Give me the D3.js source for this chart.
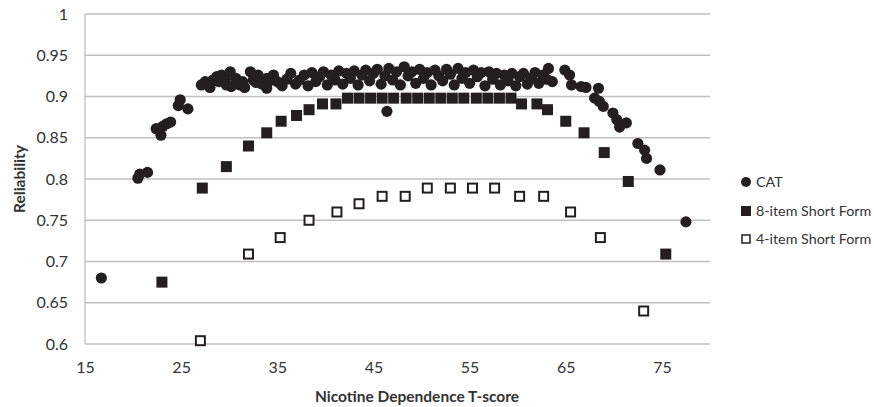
<!DOCTYPE html>
<html>
<head>
<meta charset="utf-8">
<script src="https://cdn.jsdelivr.net/npm/d3@7"></script>
<style>
  html, body { margin: 0; padding: 0; background: #fff; }
  svg { display: block; font-family: Lato, "Open Sans", sans-serif; }
</style>
</head>
<body>
<svg id="chart" width="874" height="407"></svg>
<script>
// ---------------- DATA ----------------
const xTicks = [15, 25, 35, 45, 55, 65, 75];
const yTicks = [0.6, 0.65, 0.7, 0.75, 0.8, 0.85, 0.9, 0.95, 1];
const seriesNames = ["CAT", "8-item Short Form", "4-item Short Form"];

// CAT (T-score, reliability)
const catX = [16.7, 20.5, 20.7, 21.5, 22.4, 22.9, 23.1, 23.5, 23.9, 24.7, 24.9, 25.7,
  27.1, 27.5, 28.0, 28.3, 28.7, 29.2, 29.7, 30.1, 30.2, 30.7, 31.1, 31.6, 32.2, 32.5, 33.0, 33.4, 33.9, 33.9, 34.6, 35.0, 35.3,
  28.9, 29.6, 31.4, 32.8, 34.2,
  35.5, 36.0, 36.4, 36.9, 37.3, 37.8, 38.2, 38.6, 39.0, 39.4, 39.8, 40.2, 40.6, 41.0, 41.4, 41.8, 42.2, 42.6,
  43.0, 43.4, 43.8, 44.2, 44.6, 45.0, 45.4, 45.8, 46.2, 46.6, 47.0, 47.4, 47.8, 48.2, 48.6, 49.0, 49.4, 49.8,
  50.2, 50.6, 51.0, 51.4, 51.8, 52.2, 52.6, 53.0, 53.4, 53.8, 54.2, 54.6, 55.0, 55.4, 55.8, 56.2, 56.6, 57.0,
  57.4, 57.8, 58.2, 58.6, 59.0, 59.4, 59.8, 60.2, 60.6, 61.0, 61.4, 61.8, 62.2, 62.6, 63.0, 63.2, 63.6,
  46.4,
  64.9, 65.4, 65.6, 66.6, 67.1, 68.0, 68.4, 68.5, 68.9, 69.9, 70.3, 70.6, 71.3, 72.5, 73.2, 73.4, 74.8, 77.5];
const catY = [0.680, 0.801, 0.806, 0.808, 0.861, 0.853, 0.864, 0.867, 0.869, 0.889, 0.896, 0.885,
  0.914, 0.918, 0.911, 0.920, 0.924, 0.926, 0.914, 0.930, 0.912, 0.922, 0.914, 0.911, 0.930, 0.920, 0.926, 0.915, 0.922, 0.910, 0.926, 0.918, 0.916,
  0.918, 0.921, 0.918, 0.917, 0.919,
  0.913, 0.921, 0.928, 0.915, 0.920, 0.926, 0.913, 0.929, 0.918, 0.924, 0.930, 0.914, 0.926, 0.920, 0.931, 0.915, 0.928, 0.922,
  0.931, 0.914, 0.926, 0.932, 0.919, 0.928, 0.933, 0.915, 0.925, 0.934, 0.920, 0.930, 0.914, 0.936, 0.925, 0.930, 0.916, 0.933,
  0.922, 0.929, 0.914, 0.932, 0.925, 0.919, 0.933, 0.927, 0.914, 0.934, 0.922, 0.929, 0.916, 0.932, 0.924, 0.929, 0.913, 0.930,
  0.921, 0.928, 0.914, 0.926, 0.919, 0.928, 0.913, 0.924, 0.928, 0.915, 0.922, 0.929, 0.916, 0.926, 0.921, 0.934, 0.918,
  0.882,
  0.932, 0.926, 0.914, 0.912, 0.911, 0.898, 0.910, 0.894, 0.888, 0.880, 0.872, 0.863, 0.868, 0.843, 0.835, 0.825, 0.811, 0.748];

// 8-item Short Form
const sf8X = [23.0, 27.2, 29.7, 32.0, 33.9, 35.4, 37.0, 38.3, 39.7, 41.1,
  42.3, 43.5, 44.7, 45.9, 47.1, 48.4, 49.6, 50.8, 52.0, 53.2, 54.4, 55.7, 56.9, 58.1, 59.3,
  60.4, 62.0, 63.1, 65.0, 66.9, 69.0, 71.5, 75.4];
const sf8Y = [0.675, 0.789, 0.815, 0.840, 0.856, 0.870, 0.877, 0.884, 0.891, 0.891,
  0.898, 0.898, 0.898, 0.898, 0.898, 0.898, 0.898, 0.898, 0.898, 0.898, 0.898, 0.898, 0.898, 0.898, 0.898,
  0.891, 0.891, 0.884, 0.870, 0.856, 0.832, 0.797, 0.709];

// 4-item Short Form
const sf4X = [27.0, 32.0, 35.3, 38.3, 41.2, 43.5, 45.9, 48.3, 50.6, 53.0, 55.3, 57.6, 60.2, 62.7, 65.5, 68.6, 73.1];
const sf4Y = [0.604, 0.709, 0.729, 0.750, 0.760, 0.770, 0.779, 0.779, 0.789, 0.789, 0.789, 0.789, 0.779, 0.779, 0.760, 0.729, 0.640];

// ---------------- CHART ----------------
const svg = d3.select("#chart");
const ink = "#231f20";
const gridColor = "#bfbfbf";
const textColor = "#333";

const x = d3.scaleLinear().domain([15, 80]).range([85, 710]);
const y = d3.scaleLinear().domain([0.6, 1]).range([344, 14]);

// horizontal gridlines
svg.append("g")
  .selectAll("line")
  .data(yTicks)
  .join("line")
  .attr("x1", x(15)).attr("x2", x(80))
  .attr("y1", d => y(d)).attr("y2", d => y(d))
  .attr("stroke", gridColor).attr("stroke-width", 1.3);

// left axis line
svg.append("line")
  .attr("x1", x(15)).attr("x2", x(15))
  .attr("y1", y(1)).attr("y2", y(0.6))
  .attr("stroke", gridColor).attr("stroke-width", 1.3);

// y axis labels
const yAxis = d3.axisLeft(y).tickValues(yTicks).tickSize(0).tickPadding(17)
  .tickFormat(d => d3.format("~g")(d));
const gy = svg.append("g").attr("transform", `translate(${x(15)},0)`).call(yAxis);
gy.select(".domain").remove();
gy.selectAll("text").attr("font-size", 16).attr("fill", textColor).attr("font-family", "Lato, sans-serif");

// x axis labels
const xAxis = d3.axisBottom(x).tickValues(xTicks).tickSize(0).tickPadding(18).tickFormat(d3.format("d"));
const gx = svg.append("g").attr("transform", `translate(0,${y(0.6)})`).call(xAxis);
gx.select(".domain").remove();
gx.selectAll("text").attr("font-size", 16).attr("fill", textColor).attr("font-family", "Lato, sans-serif");

// axis titles
svg.append("text")
  .attr("x", 417).attr("y", 402)
  .attr("text-anchor", "middle")
  .attr("font-size", 15.5).attr("font-weight", "bold").attr("fill", textColor)
  .text("Nicotine Dependence T-score");
svg.append("text")
  .attr("transform", `translate(25,179) rotate(-90)`)
  .attr("text-anchor", "middle")
  .attr("font-size", 15.5).attr("font-weight", "bold").attr("fill", textColor)
  .text("Reliability");

// series
const cat = catX.map((v, i) => ({ x: v, y: catY[i] }));
const sf8 = sf8X.map((v, i) => ({ x: v, y: sf8Y[i] }));
const sf4 = sf4X.map((v, i) => ({ x: v, y: sf4Y[i] }));

const sq = 11;
svg.append("g").selectAll("rect").data(sf4).join("rect")
  .attr("x", d => x(d.x) - (sq - 2) / 2).attr("y", d => y(d.y) - (sq - 2) / 2)
  .attr("width", sq - 2).attr("height", sq - 2)
  .attr("fill", "#fff").attr("stroke", ink).attr("stroke-width", 2);

svg.append("g").selectAll("rect").data(sf8).join("rect")
  .attr("x", d => x(d.x) - sq / 2).attr("y", d => y(d.y) - sq / 2)
  .attr("width", sq).attr("height", sq)
  .attr("fill", ink);

svg.append("g").selectAll("circle").data(cat).join("circle")
  .attr("cx", d => x(d.x)).attr("cy", d => y(d.y)).attr("r", 5.6)
  .attr("fill", ink);

// legend
const legY = [182, 211, 239];
const lg = svg.append("g");
lg.append("circle").attr("cx", 746).attr("cy", legY[0]).attr("r", 5).attr("fill", ink);
lg.append("rect").attr("x", 741).attr("y", legY[1] - 5).attr("width", 10).attr("height", 10).attr("fill", ink);
lg.append("rect").attr("x", 742).attr("y", legY[2] - 4).attr("width", 8).attr("height", 8)
  .attr("fill", "#fff").attr("stroke", ink).attr("stroke-width", 1.5);
lg.selectAll("text").data(seriesNames).join("text")
  .attr("x", 756).attr("y", (d, i) => legY[i])
  .attr("dy", "0.35em")
  .attr("font-size", 14.3).attr("fill", textColor)
  .text(d => d);
</script>
</body>
</html>
